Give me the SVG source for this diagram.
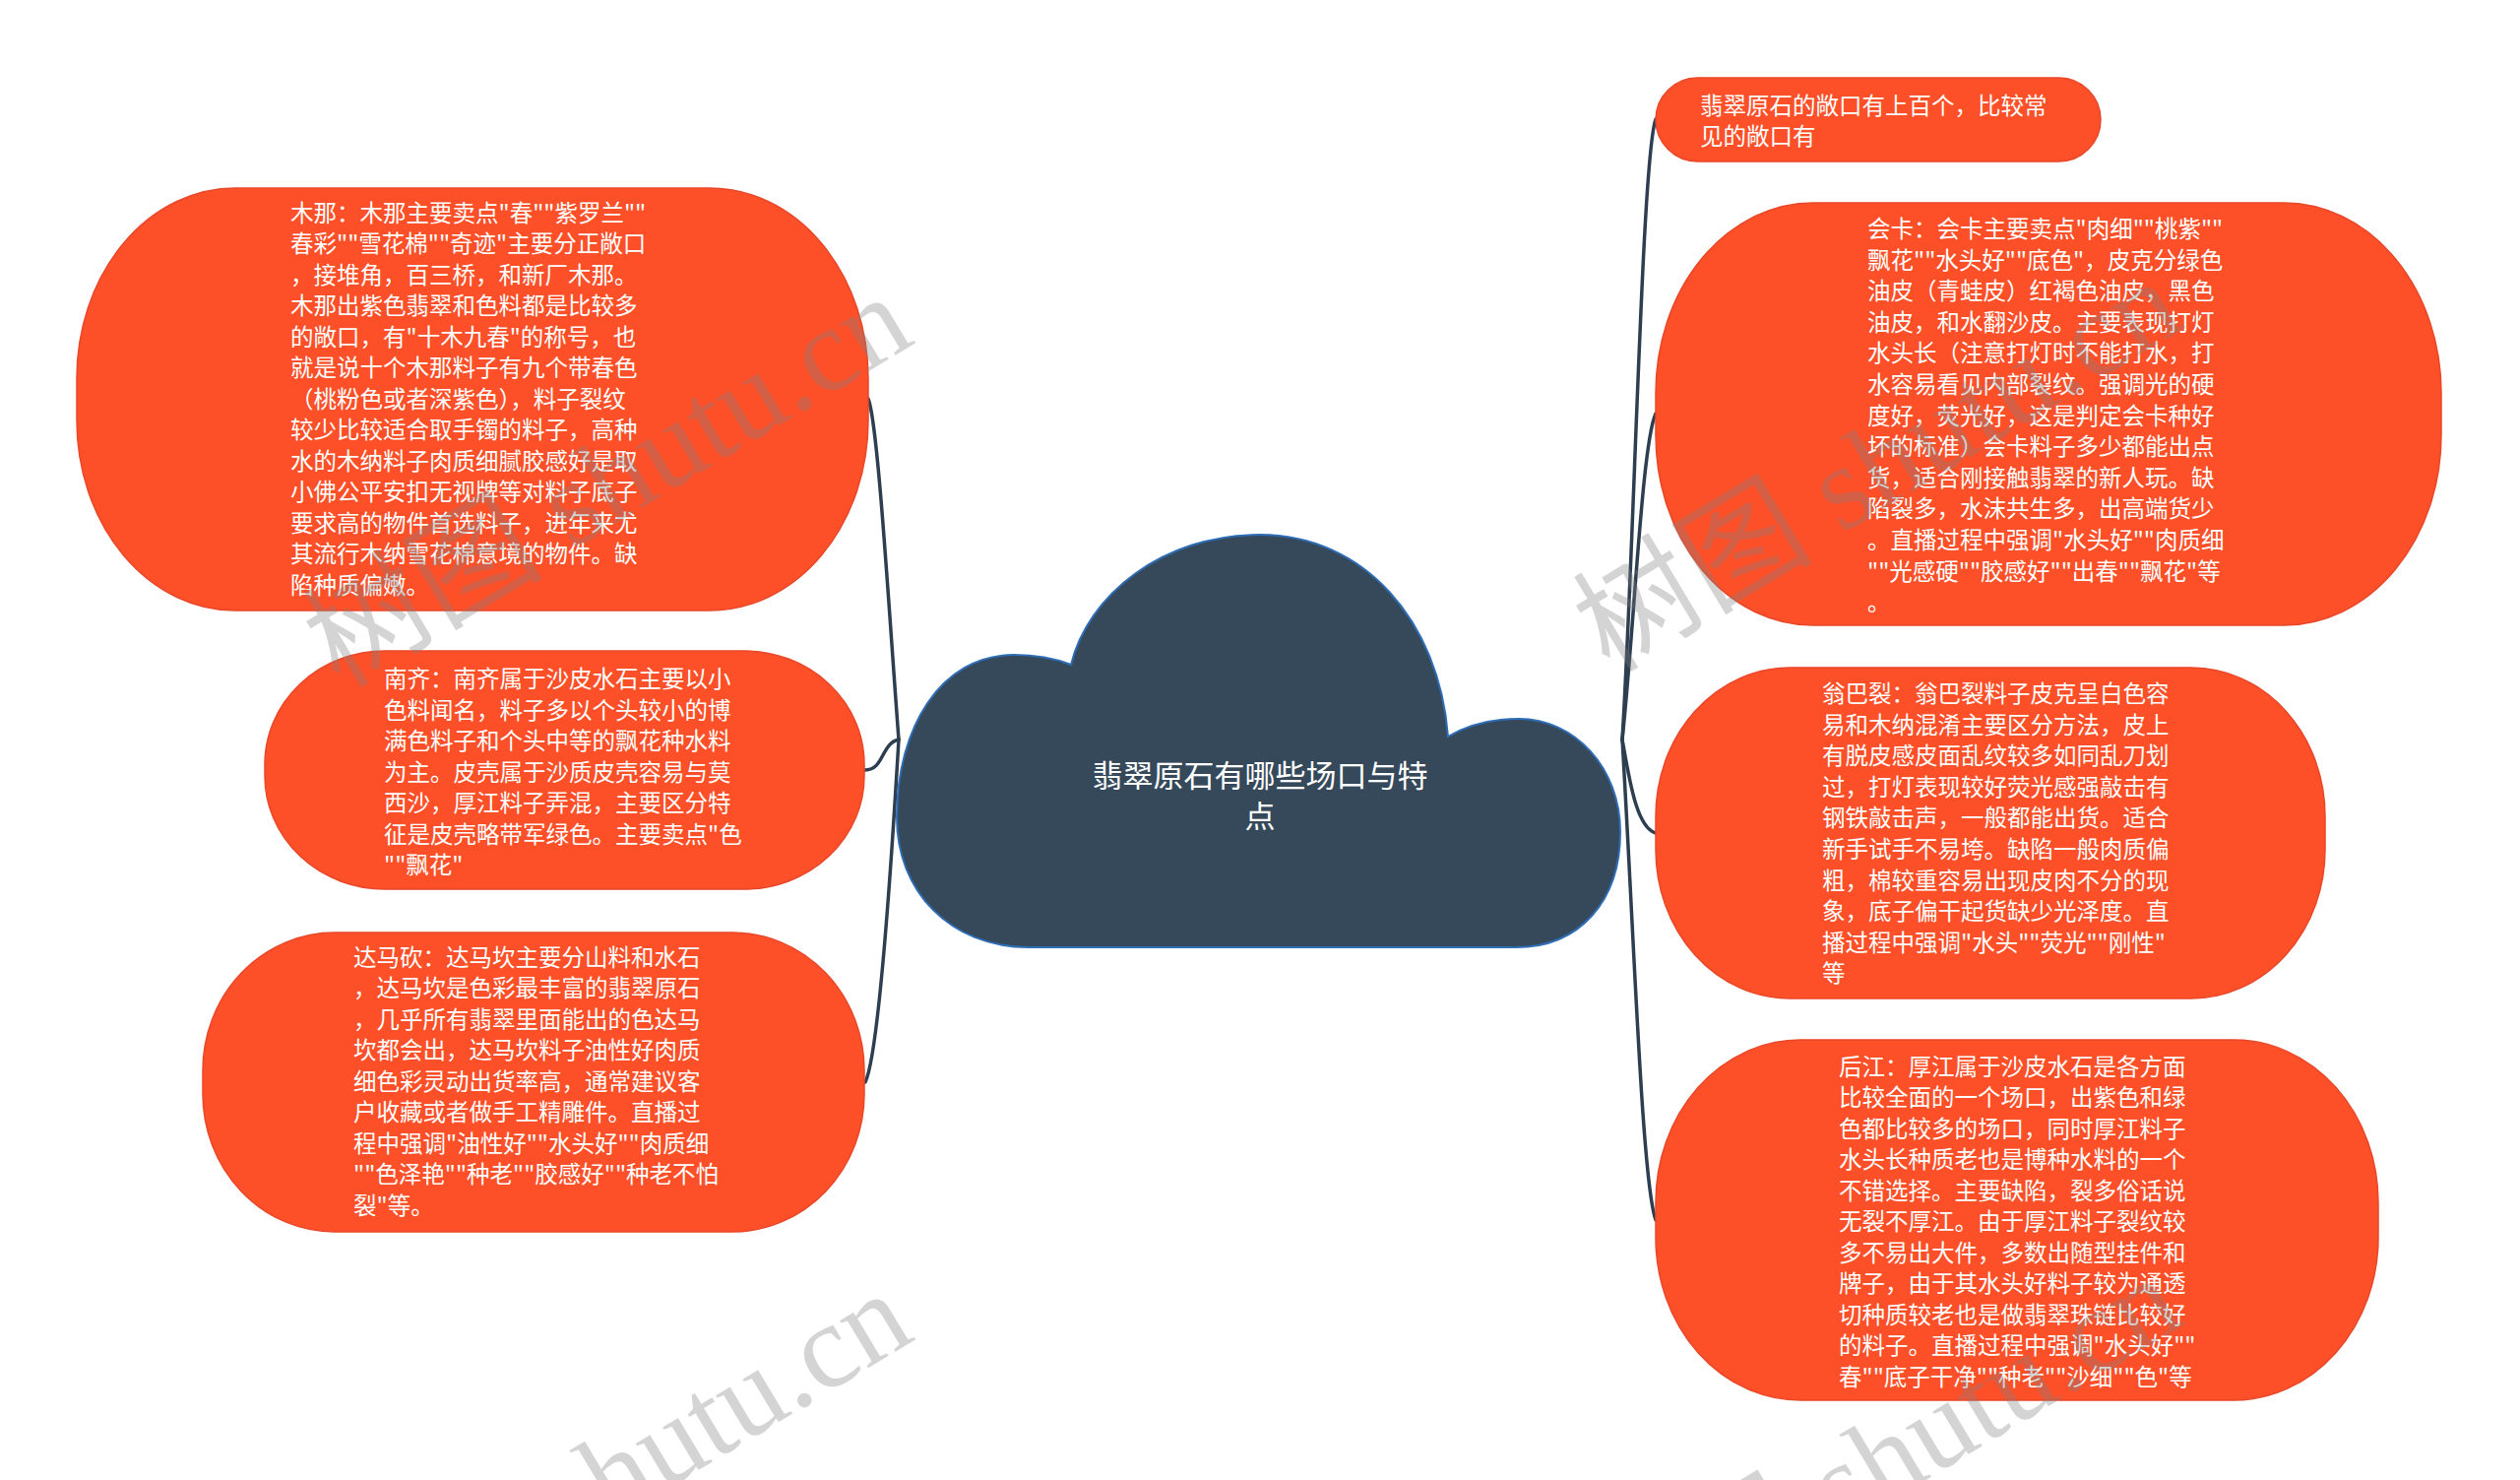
<svg xmlns="http://www.w3.org/2000/svg" width="2560" height="1503" viewBox="0 0 2560 1503">
<style>
.node rect{fill:#FD4F28;stroke:#E8482A;stroke-width:1.5}
.t{font-family:"Noto Sans CJK SC","Noto Sans",sans-serif;font-size:23.5px;fill:#FFFFFF}
.ct{font-family:"Noto Sans CJK SC","Noto Sans",sans-serif;font-size:31px;fill:#FFFFFF;text-anchor:middle}
.conn path{fill:none;stroke:#2C3E50;stroke-width:3.5;stroke-linecap:round}
.wm{font-family:"Liberation Serif","Noto Sans CJK SC",serif;font-size:122px;fill:#808080;fill-opacity:0.34}
</style>
<rect width="2560" height="1503" fill="#FFFFFF"/>
<g id="connectors" class="conn">
<path d="M 913 751 C 903 620 892 430 882 405"/>
<path d="M 913 751 C 895 755 898 782 879 782"/>
<path d="M 913 751 C 906 870 893 1070 879 1099"/>
<path d="M 1648 751 C 1660 560 1668 160 1682 121"/>
<path d="M 1648 751 C 1660 640 1668 450 1682 420"/>
<path d="M 1648 751 C 1655 790 1662 840 1682 846"/>
<path d="M 1648 751 C 1660 950 1668 1200 1682 1239"/>
</g>
<g id="root">
<path d="M 1045 962 L 1540 962 C 1605 962 1646 915 1646 845 C 1646 780 1600 730 1543 730 C 1515 730 1490 737 1471 748 C 1462 630 1385 543 1280 543 C 1180 543 1105 605 1088 675 C 1070 668 1050 665 1030 665 C 955 665 911 740 911 830 C 911 905 965 962 1045 962 Z" fill="#35495B" stroke="#2F6DB5" stroke-width="2"/>
<text class="ct" x="1280" y="799">翡翠原石有哪些场口与特<tspan x="1280" dy="41">点</tspan></text>
</g>
<g id="n-muna" class="node">
<rect x="78" y="191" width="804" height="429" rx="161" ry="193"/>
<text class="t" x="295" y="224.5"><tspan x="295">木那：木那主要卖点"春""紫罗兰""</tspan><tspan x="295" dy="31.5">春彩""雪花棉""奇迹"主要分正敞口</tspan><tspan x="295" dy="31.5">，接堆角，百三桥，和新厂木那。</tspan><tspan x="295" dy="31.5">木那出紫色翡翠和色料都是比较多</tspan><tspan x="295" dy="31.5">的敞口，有"十木九春"的称号，也</tspan><tspan x="295" dy="31.5">就是说十个木那料子有九个带春色</tspan><tspan x="295" dy="31.5">（桃粉色或者深紫色），料子裂纹</tspan><tspan x="295" dy="31.5">较少比较适合取手镯的料子，高种</tspan><tspan x="295" dy="31.5">水的木纳料子肉质细腻胶感好是取</tspan><tspan x="295" dy="31.5">小佛公平安扣无视牌等对料子底子</tspan><tspan x="295" dy="31.5">要求高的物件首选料子，进年来尤</tspan><tspan x="295" dy="31.5">其流行木纳雪花棉意境的物件。缺</tspan><tspan x="295" dy="31.5">陷种质偏嫩。</tspan></text>
</g>
<g id="n-nanqi" class="node">
<rect x="269" y="661" width="609" height="242" rx="122" ry="115"/>
<text class="t" x="390" y="698"><tspan x="390">南齐：南齐属于沙皮水石主要以小</tspan><tspan x="390" dy="31.5">色料闻名，料子多以个头较小的博</tspan><tspan x="390" dy="31.5">满色料子和个头中等的飘花种水料</tspan><tspan x="390" dy="31.5">为主。皮壳属于沙质皮壳容易与莫</tspan><tspan x="390" dy="31.5">西沙，厚江料子弄混，主要区分特</tspan><tspan x="390" dy="31.5">征是皮壳略带军绿色。主要卖点"色</tspan><tspan x="390" dy="31.5">""飘花"</tspan></text>
</g>
<g id="n-damakan" class="node">
<rect x="206" y="947" width="672" height="304" rx="134" ry="140"/>
<text class="t" x="359" y="980.5"><tspan x="359">达马砍：达马坎主要分山料和水石</tspan><tspan x="359" dy="31.5">，达马坎是色彩最丰富的翡翠原石</tspan><tspan x="359" dy="31.5">，几乎所有翡翠里面能出的色达马</tspan><tspan x="359" dy="31.5">坎都会出，达马坎料子油性好肉质</tspan><tspan x="359" dy="31.5">细色彩灵动出货率高，通常建议客</tspan><tspan x="359" dy="31.5">户收藏或者做手工精雕件。直播过</tspan><tspan x="359" dy="31.5">程中强调"油性好""水头好""肉质细</tspan><tspan x="359" dy="31.5">""色泽艳""种老""胶感好""种老不怕</tspan><tspan x="359" dy="31.5">裂"等。</tspan></text>
</g>
<g id="n-intro" class="node">
<rect x="1682" y="79" width="452" height="85" rx="42.5" ry="42.5"/>
<text class="t" x="1727" y="116"><tspan x="1727">翡翠原石的敞口有上百个，比较常</tspan><tspan x="1727" dy="31">见的敞口有</tspan></text>
</g>
<g id="n-huika" class="node">
<rect x="1682" y="206" width="798" height="429" rx="160" ry="193"/>
<text class="t" x="1897" y="241"><tspan x="1897">会卡：会卡主要卖点"肉细""桃紫""</tspan><tspan x="1897" dy="31.6">飘花""水头好""底色"，皮克分绿色</tspan><tspan x="1897" dy="31.6">油皮（青蛙皮）红褐色油皮，黑色</tspan><tspan x="1897" dy="31.6">油皮，和水翻沙皮。主要表现打灯</tspan><tspan x="1897" dy="31.6">水头长（注意打灯时不能打水，打</tspan><tspan x="1897" dy="31.6">水容易看见内部裂纹。强调光的硬</tspan><tspan x="1897" dy="31.6">度好，荧光好，这是判定会卡种好</tspan><tspan x="1897" dy="31.6">坏的标准）会卡料子多少都能出点</tspan><tspan x="1897" dy="31.6">货，适合刚接触翡翠的新人玩。缺</tspan><tspan x="1897" dy="31.6">陷裂多，水沫共生多，出高端货少</tspan><tspan x="1897" dy="31.6">。直播过程中强调"水头好""肉质细</tspan><tspan x="1897" dy="31.6">""光感硬""胶感好""出春""飘花"等</tspan><tspan x="1897" dy="31.6">。</tspan></text>
</g>
<g id="n-wengbalie" class="node">
<rect x="1682" y="678" width="680" height="336" rx="136" ry="151"/>
<text class="t" x="1851" y="713"><tspan x="1851">翁巴裂：翁巴裂料子皮克呈白色容</tspan><tspan x="1851" dy="31.6">易和木纳混淆主要区分方法，皮上</tspan><tspan x="1851" dy="31.6">有脱皮感皮面乱纹较多如同乱刀划</tspan><tspan x="1851" dy="31.6">过，打灯表现较好荧光感强敲击有</tspan><tspan x="1851" dy="31.6">钢铁敲击声，一般都能出货。适合</tspan><tspan x="1851" dy="31.6">新手试手不易垮。缺陷一般肉质偏</tspan><tspan x="1851" dy="31.6">粗，棉较重容易出现皮肉不分的现</tspan><tspan x="1851" dy="31.6">象，底子偏干起货缺少光泽度。直</tspan><tspan x="1851" dy="31.6">播过程中强调"水头""荧光""刚性"</tspan><tspan x="1851" dy="31.6">等</tspan></text>
</g>
<g id="n-houjiang" class="node">
<rect x="1682" y="1056" width="734" height="366" rx="147" ry="165"/>
<text class="t" x="1868" y="1091.5"><tspan x="1868">后江：厚江属于沙皮水石是各方面</tspan><tspan x="1868" dy="31.55">比较全面的一个场口，出紫色和绿</tspan><tspan x="1868" dy="31.55">色都比较多的场口，同时厚江料子</tspan><tspan x="1868" dy="31.55">水头长种质老也是博种水料的一个</tspan><tspan x="1868" dy="31.55">不错选择。主要缺陷，裂多俗话说</tspan><tspan x="1868" dy="31.55">无裂不厚江。由于厚江料子裂纹较</tspan><tspan x="1868" dy="31.55">多不易出大件，多数出随型挂件和</tspan><tspan x="1868" dy="31.55">牌子，由于其水头好料子较为通透</tspan><tspan x="1868" dy="31.55">切种质较老也是做翡翠珠链比较好</tspan><tspan x="1868" dy="31.55">的料子。直播过程中强调"水头好""</tspan><tspan x="1868" dy="31.55">春""底子干净""种老""沙细""色"等</tspan></text>
</g>
<g id="watermarks">
<text class="wm" transform="translate(345 700) rotate(-31)">树图 shutu.cn</text>
<text class="wm" transform="translate(1635 684) rotate(-31)">树图 shutu.cn</text>
<text class="wm" transform="translate(345 1712) rotate(-31)">树图 shutu.cn</text>
<text class="wm" transform="translate(1635 1696) rotate(-31)">树图 shutu.cn</text>
</g>
</svg>
